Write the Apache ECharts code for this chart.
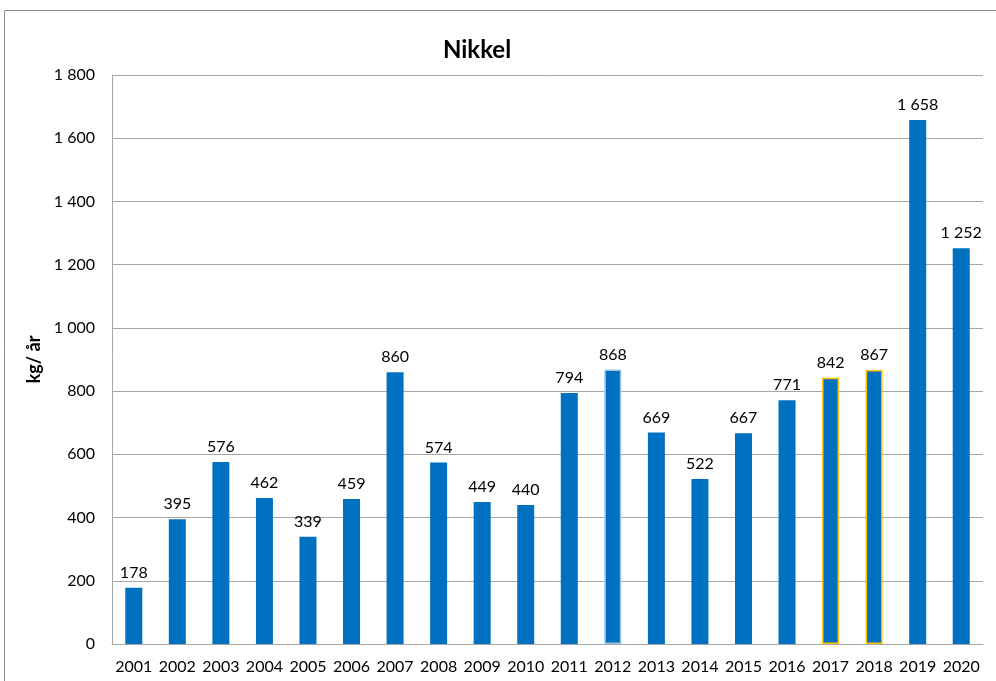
<!DOCTYPE html>
<html>
<head>
<meta charset="utf-8">
<title>Nikkel</title>
<script src="https://cdn.jsdelivr.net/npm/echarts@6/dist/echarts.min.js"></script>
<style>
  html, body { margin: 0; padding: 0; background: #ffffff; }
  #chart { width: 996px; height: 681px; }
</style>
</head>
<body>
<div id="chart"></div>
<script>
// Annual nickel discharge, kg per year
const years = ['2001','2002','2003','2004','2005','2006','2007','2008','2009','2010',
               '2011','2012','2013','2014','2015','2016','2017','2018','2019','2020'];
const values = [178, 395, 576, 462, 339, 459, 860, 574, 449, 440,
                794, 868, 669, 522, 667, 771, 842, 867, 1658, 1252];
const yTicks = { min: 0, max: 1800, step: 200 };

// Bars with a highlighted outline
const outlined = { '2012': '#9DC3E6', '2017': '#FFC000', '2018': '#FFC000' };

const FONT = 'Lato, "Open Sans", "Liberation Sans", sans-serif';
const BAR = '#0070C0';
const GRID = '#a6a6a6';

function spaced(v) {
  return String(v).replace(/\B(?=(\d{3})+(?!\d))/g, ' ');
}

const chart = echarts.init(document.getElementById('chart'), null, { renderer: 'canvas' });

chart.setOption({
  animation: false,
  backgroundColor: '#ffffff',
  title: {
    text: 'Nikkel',
    left: 472,
    top: 33,
    textAlign: 'center',
    textStyle: { fontFamily: FONT, fontSize: 24, fontWeight: 'bold', color: '#000000' }
  },
  graphic: [{
    type: 'rect',
    shape: { x: 4.5, y: 10.5, width: 1010, height: 700 },
    style: { fill: null, stroke: '#8c8c8c', lineWidth: 1 },
    silent: true, z: -1
  }],
  grid: { left: 112, right: 13, top: 75, bottom: 37, containLabel: false },
  xAxis: {
    type: 'category',
    data: years,
    axisLine: { show: true, lineStyle: { color: GRID, width: 1 } },
    axisTick: { show: false },
    axisLabel: { interval: 0, fontFamily: FONT, fontSize: 16, color: '#000000', margin: 15 },
    splitLine: { show: false }
  },
  yAxis: {
    type: 'value',
    min: yTicks.min,
    max: yTicks.max,
    interval: yTicks.step,
    name: 'kg/ år',
    nameLocation: 'middle',
    nameRotate: 90,
    nameGap: 66,
    nameTextStyle: { fontFamily: FONT, fontSize: 18, fontWeight: 'bold', color: '#000000' },
    axisLine: { show: true, lineStyle: { color: GRID, width: 1 } },
    axisTick: { show: false },
    axisLabel: { fontFamily: FONT, fontSize: 16, color: '#000000', margin: 17, formatter: spaced },
    splitLine: { show: true, lineStyle: { color: GRID, width: 1 } }
  },
  series: [{
    type: 'bar',
    barWidth: 17,
    data: values.map((v, i) => {
      const c = outlined[years[i]];
      return c ? { value: v, itemStyle: { color: BAR, borderColor: c, borderWidth: 1.5 } } : v;
    }),
    itemStyle: { color: BAR },
    label: {
      show: true,
      position: 'top',
      distance: 7,
      fontFamily: FONT,
      fontSize: 16,
      color: '#000000',
      formatter: p => spaced(p.value)
    }
  }]
});
</script>
</body>
</html>
